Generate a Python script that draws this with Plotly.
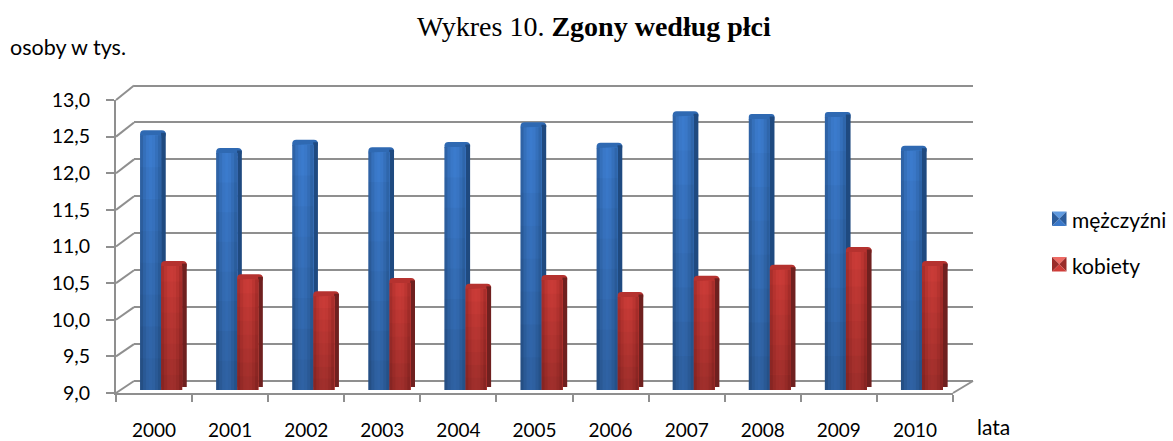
import plotly.graph_objects as go

years = ["2000","2001","2002","2003","2004","2005","2006","2007","2008","2009","2010"]
men = [12.50,12.26,12.37,12.27,12.34,12.61,12.33,12.76,12.72,12.75,12.29]
women = [10.72,10.54,10.31,10.49,10.41,10.53,10.30,10.52,10.67,10.91,10.72]
y_ticks = [9,9.5,10,10.5,11,11.5,12,12.5,13]

W, H = 1173, 441
FRONT_L, FRONT_R, FRONT_0, FRONT_13 = 116, 953, 393, 100
BACK_L, BACK_R, BACK_0, BACK_13 = 134, 973, 381, 85.5
BAR_0, PX_UNIT = 390, 73.5
CAT = (FRONT_R - FRONT_L) / len(years)
GRID = "#8f8f8f"
BACK_UNIT = (BACK_0 - BACK_13) / 4
PAD = 0.1  # back-wall axis runs slightly past 9 and 13 so both end gridlines show

px2v = lambda p: 9 + (BAR_0 - p) / PX_UNIT
dx = lambda px: px / CAT
dv = lambda px: px / PX_UNIT

fig = go.Figure()

def series(name, vals, left_px, face_px, side_px, cap, side, shades):
    off = dx(left_px)
    common = dict(x=years, xaxis="x2", yaxis="y3", hoverinfo="skip", showlegend=False)
    fig.add_bar(y=[dv(8)] * len(vals), base=[v - dv(5.5) for v in vals],
                offset=off, width=dx(face_px + side_px),
                marker=dict(color=cap, cornerradius=5, line_width=0), **common)
    fig.add_bar(y=[v - 9 - dv(3) for v in vals], base=[9 + dv(3)] * len(vals),
                offset=off + dx(face_px), width=dx(side_px),
                marker=dict(color=side, line_width=0), **common)
    n = len(shades)
    for i, c in enumerate(shades):
        # each strip runs to the right edge of the face, so no seams appear between strips
        fig.add_bar(y=[v - 9 - dv(2.5) for v in vals], base=[9] * len(vals),
                    offset=off + dx(face_px) * i / n, width=dx(face_px) * (n - i) / n,
                    marker=dict(color=c, line_width=0), **common)
    bands = 8
    for k in range(bands):
        h = [(v - 9 - dv(2.5)) / bands for v in vals]
        fig.add_bar(y=h, base=[9 + x * k for x in h],
                    offset=off, width=dx(face_px),
                    marker=dict(color=f"rgba(0,0,0,{0.2 * (bands - 1 - k) / (bands - 1):.3f})", line_width=0),
                    **common)
    fig.add_bar(x=years, y=[v - 9 for v in vals], base=[9] * len(vals), offset=off, width=dx(face_px),
                xaxis="x2", yaxis="y3", name=name, showlegend=False,
                marker=dict(color="rgba(0,0,0,0)", line_width=0),
                customdata=vals, hovertemplate="%{x}: %{customdata}<extra>" + name + "</extra>")

fig.add_scatter(x=[None], y=[None], xaxis="x", yaxis="y", showlegend=False, hoverinfo="skip")
fig.add_scatter(x=[None], y=[None], xaxis="x2", yaxis="y2", showlegend=False, hoverinfo="skip")

series("mężczyźni", men, -14, 21, 4.7, "#2f69b2", "#1f4a80",
       ["#2f63a6", "#3570bb", "#3a78c8", "#3b7bcd", "#3a78c8", "#3570bb", "#2f66ab"])
series("kobiety", women, 7, 21, 4.7, "#b5322f", "#6f201f",
       ["#a92f2c", "#bb3531", "#c63a36", "#c93b37", "#c63a36", "#bb3531", "#a92e2b"])

shapes = []
def line(x0, y0, x1, y1):
    shapes.append(dict(type="line", xref="paper", yref="paper", layer="below",
                       x0=x0 / W, x1=x1 / W, y0=1 - y0 / H, y1=1 - y1 / H,
                       line=dict(color=GRID, width=2)))
n = len(y_ticks) - 1
for i in range(n + 1):
    f = i / n
    line(FRONT_L, FRONT_0 + (FRONT_13 - FRONT_0) * f, BACK_L, BACK_0 + (BACK_13 - BACK_0) * f)
line(FRONT_R, FRONT_0, BACK_R, BACK_0)

def swatch(x0, y0, s, top, side_c, bottom):
    xm, ym = x0 + s / 2, y0 + s / 2
    pts = lambda a, b: f"M {a[0]/W} {1-a[1]/H} L {b[0]/W} {1-b[1]/H} L {xm/W} {1-ym/H} Z"
    corners = [(x0, y0), (x0 + s, y0), (x0 + s, y0 + s), (x0, y0 + s)]
    for a, b, c in [(corners[0], corners[1], top), (corners[1], corners[2], side_c),
                    (corners[2], corners[3], bottom), (corners[3], corners[0], side_c)]:
        shapes.append(dict(type="path", xref="paper", yref="paper", path=pts(a, b),
                           fillcolor=c, line=dict(width=0)))

swatch(1052, 211.5, 14.5, "#5f9ae0", "#2b5c9c", "#3a78c8")
swatch(1052, 257, 14.5, "#ee6a64", "#9a2b29", "#cf3c38")

ann = lambda text, x, y, size, family="Lato", xanchor="left": dict(
    text=text, x=x / W, y=1 - y / H, xref="paper", yref="paper", showarrow=False,
    xanchor=xanchor, yanchor="middle", font=dict(size=size, family=family, color="#000"))

annotations = [
    ann("Wykres 10. <b>Zgony według płci</b>", 594, 27, 28, "Liberation Serif", "center"),
    ann("osoby w tys.", 8, 47, 21.5),
    ann("lata", 975, 426, 21),
    ann("mężczyźni", 1070, 219, 21),
    ann("kobiety", 1070, 265, 21),
]

front_font = dict(size=19.5, family="Lato", color="#000")
fig.update_layout(
    width=W, height=H, autosize=False, margin=dict(l=0, r=0, t=0, b=0, autoexpand=False),
    paper_bgcolor="white", plot_bgcolor="rgba(0,0,0,0)", barmode="overlay",
    separators=", ", showlegend=False, shapes=shapes, annotations=annotations,
    xaxis=dict(domain=[BACK_L / W, BACK_R / W], range=[0, 1], visible=False),
    yaxis=dict(domain=[1 - (BACK_0 + PAD * BACK_UNIT) / H, 1 - (BACK_13 - PAD * BACK_UNIT) / H],
               range=[9 - PAD, 13 + PAD], tickvals=y_ticks,
               showgrid=True, gridcolor=GRID, gridwidth=2, showticklabels=False, zeroline=False,
               showline=False, ticks=""),
    xaxis2=dict(domain=[FRONT_L / W, FRONT_R / W], type="category", categoryorder="array",
                categoryarray=years, tickson="boundaries", ticks="outside", ticklen=7, tickwidth=2,
                tickcolor=GRID, showline=True, linecolor=GRID, linewidth=2, showgrid=False,
                tickfont=dict(size=19, family="Lato", color="#000"), ticklabelstandoff=19,
                anchor="y2", zeroline=False),
    yaxis2=dict(domain=[1 - FRONT_0 / H, 1 - FRONT_13 / H], range=[9, 13], tickvals=y_ticks,
                tickformat=".1f", ticks="outside", ticklen=8, tickwidth=2, tickcolor=GRID,
                showline=True, linecolor=GRID, linewidth=2, showgrid=False, zeroline=False,
                tickfont=front_font, ticklabelstandoff=12, anchor="x2"),
    yaxis3=dict(overlaying="y2", anchor="x2", visible=False, range=[px2v(FRONT_0), px2v(FRONT_13)]),
)

fig.write_html("out.html", config={"displayModeBar": False}, post_script="document.body.style.margin='0';")
